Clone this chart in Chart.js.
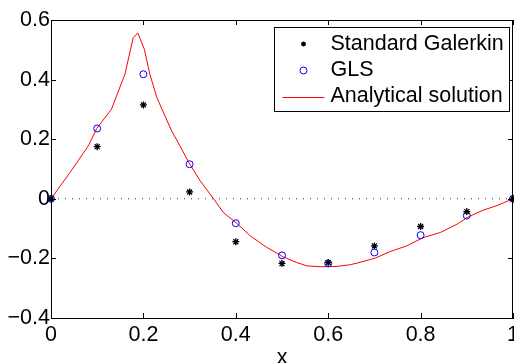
<!DOCTYPE html>
<html>
<head>
<meta charset="utf-8">
<script src="https://cdn.jsdelivr.net/npm/chart.js@4/dist/chart.umd.min.js"></script>
<style>
  html, body { margin: 0; padding: 0; background: #fff; overflow: hidden; }
  #wrap { width: 530px; height: 363px; }
</style>
</head>
<body>
<div id="wrap"><canvas id="c" width="530" height="363"></canvas></div>
<script>
// ---- data ----
const xNodes = [0, 0.1, 0.2, 0.3, 0.4, 0.5, 0.6, 0.7, 0.8, 0.9, 1.0];
const galerkin = [0, 0.175, 0.315, 0.023, -0.144, -0.217, -0.214, -0.158, -0.093, -0.043, 0];
const gls = [0, 0.236, 0.418, 0.116, -0.082, -0.190, -0.217, -0.180, -0.122, -0.056, 0];
const analyticX = [0, 0.041, 0.081, 0.099, 0.131, 0.160, 0.178, 0.188, 0.202, 0.214, 0.229, 0.261, 0.279, 0.299, 0.323, 0.352, 0.373, 0.402, 0.431, 0.467, 0.503, 0.532, 0.554, 0.583, 0.619, 0.648, 0.662, 0.702, 0.734, 0.770, 0.806, 0.843, 0.879, 0.904, 0.936, 0.965, 1.0];
const analyticY = [0, 0.088, 0.178, 0.236, 0.301, 0.418, 0.541, 0.556, 0.502, 0.418, 0.340, 0.228, 0.178, 0.120, 0.060, 0, -0.046, -0.082, -0.124, -0.163, -0.195, -0.214, -0.225, -0.228, -0.227, -0.221, -0.216, -0.199, -0.177, -0.158, -0.130, -0.113, -0.085, -0.060, -0.038, -0.023, 0];
const zeroLineX = [0, 1];
const zeroLineY = [0, 0];
const xTickValues = [0, 0.2, 0.4, 0.6, 0.8, 1];
const xTickLabels = ['0', '0.2', '0.4', '0.6', '0.8', '1'];
const yTickValues = [-0.4, -0.2, 0, 0.2, 0.4, 0.6];
const yTickLabels = ['\u22120.4', '\u22120.2', '0', '0.2', '0.4', '0.6'];
const seriesLabels = ['Standard Galerkin', 'GLS', 'Analytical solution'];
const xTitle = 'x';

const FONT = '"Liberation Sans", Arial, Helvetica, sans-serif';
const FSIZE = 21.5;
const pts = (xs, ys) => xs.map((x, i) => ({ x: x, y: ys[i] }));
const labelFor = (vals, labs) => (v) => {
  const i = vals.findIndex(t => Math.abs(t - v) < 1e-9);
  return i >= 0 ? labs[i] : '';
};

const TICK_LEN = 5;
const framePlugin = {
  id: 'frame',
  afterDatasetsDraw(chart) {
    const { ctx, chartArea: { left, right, top, bottom }, scales: { x, y } } = chart;
    ctx.save();
    ctx.strokeStyle = '#000';
    ctx.lineWidth = 1;
    ctx.beginPath();
    ctx.moveTo(left, Math.round(top) + 0.5); ctx.lineTo(right, Math.round(top) + 0.5);
    ctx.moveTo(Math.round(right) - 0.5, top); ctx.lineTo(Math.round(right) - 0.5, bottom);
    x.ticks.forEach(t => {
      const px = Math.round(x.getPixelForValue(t.value)) + 0.5;
      ctx.moveTo(px, bottom); ctx.lineTo(px, bottom - TICK_LEN);
      ctx.moveTo(px, top); ctx.lineTo(px, top + TICK_LEN);
    });
    y.ticks.forEach(t => {
      const py = Math.round(y.getPixelForValue(t.value)) + 0.5;
      ctx.moveTo(left, py); ctx.lineTo(left + TICK_LEN, py);
      ctx.moveTo(right, py); ctx.lineTo(right - TICK_LEN, py);
    });
    ctx.stroke();
    ctx.restore();
  }
};

const legendPlugin = {
  id: 'boxLegend',
  afterDraw(chart) {
    const { ctx, chartArea } = chart;
    const w = 235, h = 84;
    const bx = Math.round(chartArea.right - 4 - w) + 0.5;
    const by = Math.round(chartArea.top + 7) + 0.5;
    ctx.save();
    ctx.fillStyle = '#fff';
    ctx.fillRect(bx, by, w, h);
    ctx.strokeStyle = '#000';
    ctx.lineWidth = 1;
    ctx.strokeRect(bx, by, w, h);
    const entries = chart.data.datasets.filter(d => d.inLegend);
    const rowY = [16.5, 43, 69];
    entries.forEach((d, i) => {
      const cy = by + rowY[i];
      const cx = bx + 29;
      if (d.showLine) {
        ctx.strokeStyle = d.borderColor;
        ctx.lineWidth = d.borderWidth;
        ctx.beginPath();
        ctx.moveTo(bx + 8, Math.round(cy) + 0.5);
        ctx.lineTo(bx + 50, Math.round(cy) + 0.5);
        ctx.stroke();
      } else {
        ctx.strokeStyle = d.pointBorderColor;
        ctx.fillStyle = d.pointBackgroundColor;
        ctx.lineWidth = d.pointBorderWidth;
        Chart.helpers.drawPoint(ctx, {
          pointStyle: d.pointStyle, radius: d.pointStyle === 'star' ? 2.5 : d.pointRadius, rotation: 0, borderWidth: d.pointBorderWidth
        }, cx, cy);
      }
      ctx.fillStyle = '#000';
      ctx.font = FSIZE + 'px ' + FONT;
      ctx.textBaseline = 'middle';
      ctx.textAlign = 'left';
      ctx.fillText(d.label, bx + 56, cy);
    });
    ctx.restore();
  }
};

new Chart(document.getElementById('c'), {
  type: 'scatter',
  data: {
    datasets: [
      {
        label: seriesLabels[0], inLegend: true,
        data: pts(xNodes, galerkin),
        showLine: false,
        pointStyle: 'star', pointRadius: 3.5, pointBorderWidth: 1.3,
        pointBorderColor: '#000', pointBackgroundColor: '#000',
        clip: false
      },
      {
        label: seriesLabels[1], inLegend: true,
        data: pts(xNodes, gls),
        showLine: false,
        pointStyle: 'circle', pointRadius: 3.5, pointBorderWidth: 1,
        pointBorderColor: '#0000ff', pointBackgroundColor: 'rgba(0,0,0,0)',
        clip: false
      },
      {
        label: seriesLabels[2], inLegend: true,
        data: pts(analyticX, analyticY),
        showLine: true, tension: 0,
        borderColor: '#ff0000', borderWidth: 1,
        pointRadius: 0,
        clip: false
      },
      {
        label: 'zero', inLegend: false,
        data: pts(zeroLineX, zeroLineY),
        showLine: true,
        borderColor: '#333', borderWidth: 1, borderDash: [1, 6],
        pointRadius: 0,
        clip: false
      }
    ]
  },
  options: {
    responsive: false,
    animation: false,
    devicePixelRatio: 1,
    layout: { padding: { left: 0, right: 17, top: 20, bottom: 0 } },
    plugins: { legend: { display: false }, tooltip: { enabled: false } },
    scales: {
      x: {
        type: 'linear', min: 0, max: 1,
        afterBuildTicks: s => { s.ticks = xTickValues.map(v => ({ value: v })); },
        afterFit: s => { s.height = 45; },
        grid: { display: false, drawTicks: false },
        border: { display: true, color: '#000', width: 1 },
        ticks: {
          padding: 4, color: '#000', maxRotation: 0, autoSkip: false,
          font: { family: FONT, size: FSIZE },
          callback: labelFor(xTickValues, xTickLabels)
        },
        title: {
          display: true, text: xTitle, color: '#000',
          font: { family: FONT, size: FSIZE, lineHeight: 0.5 },
          padding: { top: 0, bottom: 0 }
        }
      },
      y: {
        type: 'linear', min: -0.4, max: 0.6,
        afterBuildTicks: s => { s.ticks = yTickValues.map(v => ({ value: v })); },
        afterFit: s => { s.width = 51; },
        grid: { display: false, drawTicks: false },
        border: { display: true, color: '#000', width: 1 },
        ticks: {
          padding: 1, color: '#000',
          font: { family: FONT, size: FSIZE },
          callback: labelFor(yTickValues, yTickLabels)
        }
      }
    }
  },
  plugins: [framePlugin, legendPlugin]
});
</script>
</body>
</html>
